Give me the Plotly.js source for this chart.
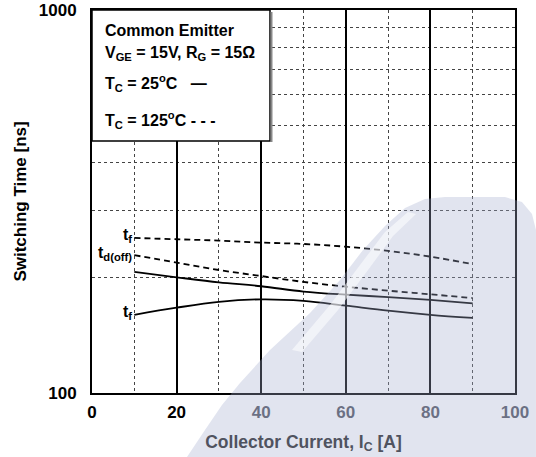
<!DOCTYPE html>
<html><head><meta charset="utf-8">
<script src="https://cdn.plot.ly/plotly-3.0.1.min.js"></script>
<style>body{margin:0;background:#fff}#chart{width:536px;height:457px}</style>
</head><body><div id="chart"></div>
<script>
// Data
const current   = [10, 20, 30, 40, 50, 60, 70, 80, 90];
const tf125     = [254, 252, 250, 247, 245, 241, 235, 227, 217];
const tdoff125  = [229, 219, 209.5, 202, 195, 189.5, 185, 181, 177];
const tdoff25   = [207, 200.5, 194.5, 190, 184, 180.6, 178, 175, 171.5];
const tf25      = [160, 167, 173, 175.6, 174, 169, 164, 160, 157];

const xTickVals = [0, 20, 40, 60, 80, 100];
const xTickLabels = ['0', '20', '40', '60', '80', '100'];
const xMinorVals = [10, 30, 50, 70, 90];
const yTickVals = [100, 1000];
const yTickText = ['100', '1000'];
const yMinorVals = [200, 300, 400, 500, 600, 700, 800, 900];

const FONT = 'Liberation Sans, Arial, sans-serif';
const WM_TEXT = '#50535f';   // text seen through the watermark
const solid = {color: '#000', width: 1.8, shape: 'spline'};
const dashed = {color: '#000', width: 1.8, shape: 'spline', dash: '6px,4px'};

const traces = [
  {x: current, y: tf125, mode: 'lines', line: dashed, name: 'tf 125C'},
  {x: current, y: tdoff125, mode: 'lines', line: dashed, name: 'td(off) 125C'},
  {x: current, y: tdoff25, mode: 'lines', line: solid, name: 'td(off) 25C'},
  {x: current, y: tf25, mode: 'lines', line: solid, name: 'tf 25C'}
];

const px = v => (v - 92) / 423;
const py = v => (393 - v) / 383;
const toPath = pts => 'M ' + pts.map(p => px(p[0]).toFixed(4) + ',' + py(p[1]).toFixed(4)).join(' L ') + ' Z';

const boxFont = {family: FONT, size: 16, color: '#000', weight: 'bold'};
const lblFont = {family: FONT, size: 16, color: '#000', weight: 'bold'};

const annotations = [
  {xref: 'paper', yref: 'paper', x: px(103), y: py(30), xanchor: 'left', yanchor: 'middle', showarrow: false, text: 'Common Emitter', font: boxFont},
  {xref: 'paper', yref: 'paper', x: px(103), y: py(53), xanchor: 'left', yanchor: 'middle', showarrow: false, text: 'V<sub>GE</sub> = 15V, R<sub>G</sub> = 15Ω', font: boxFont},
  {xref: 'paper', yref: 'paper', x: px(103), y: py(83), xanchor: 'left', yanchor: 'middle', showarrow: false, text: 'T<sub>C</sub> = 25<sup>o</sup>C   —', font: boxFont},
  {xref: 'paper', yref: 'paper', x: px(103), y: py(120), xanchor: 'left', yanchor: 'middle', showarrow: false, text: 'T<sub>C</sub> = 125<sup>o</sup>C - - -', font: boxFont},
  {xref: 'x', yref: 'y', x: current[0], y: Math.log10(tf125[0]), xanchor: 'right', yanchor: 'middle', yshift: 2, showarrow: false, text: 't<sub>f</sub>', font: lblFont},
  {xref: 'x', yref: 'y', x: current[0], y: Math.log10(tdoff125[0]), xanchor: 'right', yanchor: 'middle', yshift: 2, showarrow: false, text: 't<sub>d(off)</sub>', font: lblFont},
  {xref: 'x', yref: 'y', x: current[0], y: Math.log10(tf25[0]), xanchor: 'right', yanchor: 'middle', yshift: 2, showarrow: false, text: 't<sub>f</sub>', font: lblFont}
];

const shapes = [
  {type: 'rect', xref: 'paper', yref: 'paper', x0: 0, x1: px(270), y0: py(141), y1: 1, fillcolor: '#fff', line: {color: '#000', width: 1.5}, layer: 'above'},
  {type: 'line', xref: 'paper', yref: 'paper', x0: px(271.5), x1: px(271.5), y0: py(142), y1: py(12), line: {color: '#888', width: 2}, layer: 'above'},
  // background watermark
  {type: 'path', xref: 'paper', yref: 'paper', layer: 'above', fillcolor: 'rgba(165,172,205,0.33)', line: {width: 0},
   path: toPath([[187,457],[205,430],[222,405],[240,383],[270,350],[310,313],[340,280],[363,250],[385,226],[405,208],[425,199],[445,197],[505,197],[522,202],[532,214],[536,230],[536,457]])},
  // watermark highlight streak
  {type: 'path', xref: 'paper', yref: 'paper', layer: 'above', fillcolor: 'rgba(255,255,255,0.55)', line: {width: 0},
   path: toPath([[292,350],[330,305],[360,265],[385,232],[408,212],[416,214],[393,236],[368,270],[338,310],[302,352]])}
];

const xTickText = xTickLabels.map((t, i) => xTickVals[i] >= 40 ? '<span style="color:' + WM_TEXT + '">' + t + '</span>' : t);

const layout = {
  width: 536, height: 457,
  margin: {l: 92, r: 21, t: 10, b: 64},
  paper_bgcolor: '#fff', plot_bgcolor: '#fff',
  showlegend: false,
  font: {family: FONT, size: 17, color: '#000', weight: 'bold'},
  xaxis: {
    range: [0, 100], tickmode: 'array', tickvals: xTickVals, ticktext: xTickText,
    showgrid: true, gridcolor: '#000', gridwidth: 2,
    minor: {tickmode: 'array', tickvals: xMinorVals, showgrid: true, gridcolor: '#444', gridwidth: 1, griddash: 'dot'},
    zeroline: false, showline: true, linecolor: '#000', linewidth: 2, mirror: true,
    ticks: '', ticklabelstandoff: 3,
    tickfont: {family: FONT, size: 17, color: '#000', weight: 'bold'},
    title: {text: 'Collector Current, I<sub>C</sub> [A]', standoff: 14, font: {family: FONT, size: 17.5, color: WM_TEXT, weight: 'bold'}}
  },
  yaxis: {
    type: 'log', range: [2, 3], tickmode: 'array', tickvals: yTickVals, ticktext: yTickText,
    showgrid: false,
    minor: {tickmode: 'array', tickvals: yMinorVals, showgrid: true, gridcolor: '#444', gridwidth: 1, griddash: 'dot'},
    zeroline: false, showline: true, linecolor: '#000', linewidth: 2, mirror: true,
    ticks: '', ticklabelstandoff: 10,
    tickfont: {family: FONT, size: 17, color: '#000', weight: 'bold'},
    title: {text: 'Switching Time [ns]', standoff: 8, font: {family: FONT, size: 17, color: '#000', weight: 'bold'}}
  },
  annotations: annotations,
  shapes: shapes
};

Plotly.newPlot('chart', traces, layout, {displayModeBar: false, staticPlot: true});
</script>
</body></html>
